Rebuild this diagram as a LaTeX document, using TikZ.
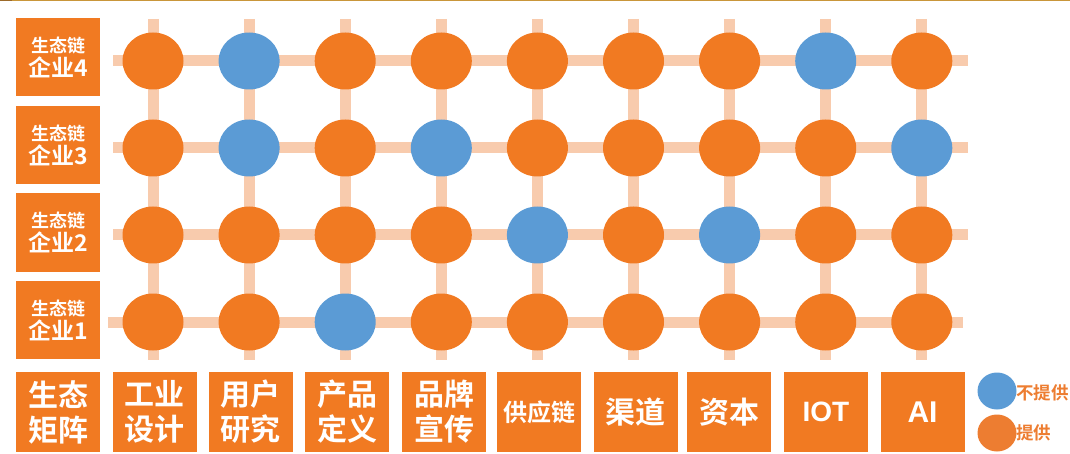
\documentclass[tikz,border=0pt]{standalone}
\usepackage{fontspec}
\setmainfont{Noto Sans CJK SC}[BoldFont={* Bold}]
\newfontfamily\lat{Liberation Sans}
\usetikzlibrary{shapes.geometric}
\definecolor{og}{HTML}{F17A22}
\definecolor{bl}{HTML}{5B9BD5}
\definecolor{pc}{HTML}{F8CBAD}
\definecolor{gold}{HTML}{C9963A}
\definecolor{golddk}{HTML}{9C6A2A}
\definecolor{lego}{HTML}{ED7D31}
\begin{document}
\begin{tikzpicture}[x=1pt,y=-1pt,
  grid/.style={pc,line width=11pt},
  dot/.style={ellipse,inner sep=0pt,minimum width=61pt,minimum height=57pt},
  doto/.style={fill=og},
  dotb/.style={fill=bl},
  box/.style={rectangle,fill=og,text=white,align=center,inner sep=0pt,minimum width=84pt},
  lbox/.style={box,minimum height=78pt,font=\bfseries\fontsize{23}{27}\selectfont},
  bbox/.style={box,minimum height=80pt,font=\bfseries\fontsize{30}{35}\selectfont},
  legdot/.style={ellipse,inner sep=0pt,minimum width=39pt,minimum height=37pt},
  legtxt/.style={anchor=west,text=lego,font=\bfseries\fontsize{17.5}{17.5}\selectfont,inner sep=0pt}]
\useasboundingbox (0,0) rectangle (1070,454);
% top rule
\draw[gold,line width=1.5pt] (0,0.75) -- (1070,0.75);
\fill[golddk] (0,0) rectangle (12,1.5);
% grid coordinates
\foreach \r in {1,...,4}{
  \pgfmathsetmacro{\yy}{322-(\r-1)*87}
  \ifnum\r=1
    \coordinate (hl-\r) at (108,\yy);
    \coordinate (hr-\r) at (963,\yy);
  \else
    \coordinate (hl-\r) at (113,\yy);
    \coordinate (hr-\r) at (968,\yy);
  \fi
}
\foreach \c in {1,...,9}{
  \pgfmathsetmacro{\xx}{153+(\c-1)*96.1}
  \coordinate (vt-\c) at (\xx,19);
  \coordinate (vb-\c) at (\xx,360);
}
\foreach \r in {1,...,4}{\draw[grid] (hl-\r) -- (hr-\r);}
\foreach \c in {1,...,9}{\draw[grid] (vt-\c) -- (vb-\c);}
% circles
\foreach \r/\cl in {4/{o,b,o,o,o,o,o,b,o},3/{o,b,o,b,o,o,o,o,b},2/{o,o,o,o,b,o,b,o,o},1/{o,o,b,o,o,o,o,o,o}}{
  \foreach \k [count=\c] in \cl {
    \pgfmathsetmacro{\xx}{153+(\c-1)*96.1}
    \pgfmathsetmacro{\yy}{322-(\r-1)*87}
    \node[dot,dot\k] (n-\r-\c) at (\xx,\yy) {};
  }
}
% row labels
\foreach \r in {1,...,4}{
  \pgfmathsetmacro{\yy}{320-(\r-1)*87.5}
  \node[lbox] (row-\r) at (58,\yy) {{\fontsize{18}{18}\selectfont 生态链}\\[-3pt]企业\r};
}
% column labels
\node[bbox] (col-0) at (58,412) {生态\\矩阵};
\node[bbox] (col-1) at (154.5,412) {工业\\设计};
\node[bbox] (col-2) at (250.5,412) {用户\\研究};
\node[bbox] (col-3) at (347,412) {产品\\定义};
\node[bbox] (col-4) at (444,412) {品牌\\宣传};
\node[bbox,font=\bfseries\fontsize{24}{24}\selectfont] (col-5) at (539,412) {供应链};
\node[bbox] (col-6) at (635.5,412) {渠道};
\node[bbox] (col-7) at (729,412) {资本};
\node[bbox,font=\lat\bfseries\fontsize{28}{28}\selectfont] (col-8) at (826,412) {IOT};
\node[bbox,font=\lat\bfseries\fontsize{30}{30}\selectfont] (col-9) at (922.5,412) {AI};
% legend
\node[legdot,fill=bl] (leg-b) at (997,391) {};
\node[legdot,fill=lego] (leg-o) at (997,433) {};
\node[legtxt] (legt-b) at (1016,393) {不提供};
\node[legtxt] (legt-o) at (1016,433) {提供};
\end{tikzpicture}
\end{document}
